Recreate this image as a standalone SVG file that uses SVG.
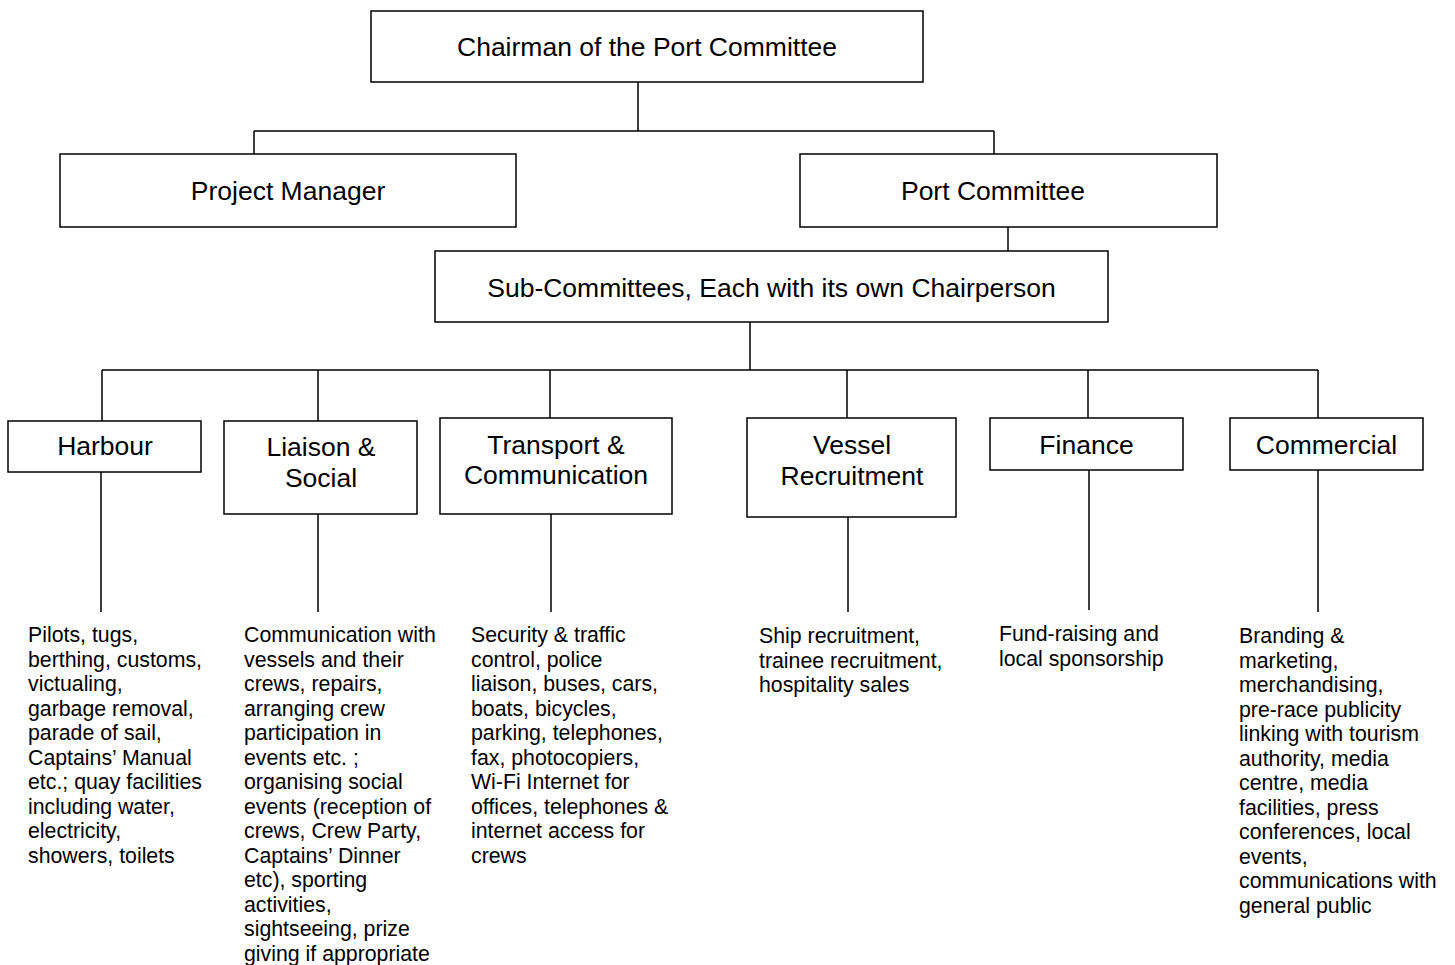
<svg xmlns="http://www.w3.org/2000/svg" width="1455" height="965" viewBox="0 0 1455 965">
<style>
.box{fill:#fff;stroke:#000;stroke-width:1.5}
.con{stroke:#000;stroke-width:1.5;fill:none}
.h{font-family:"Liberation Sans",Arial,sans-serif;font-size:26.5px;fill:#000;text-anchor:middle}
.b{font-family:"Liberation Sans",Arial,sans-serif;font-size:21.3px;fill:#000}
</style>
<rect width="1455" height="965" fill="#fff"/>
<g id="connectors">
<path class="con" d="M638 82V131M254 131H994M254 131V154M994 131V154"/>
<path class="con" d="M1008 227V251"/>
<path class="con" d="M750 322V370M102 370H1318M102 370V421M318 370V421M550 370V418M847 370V418M1088 370V418M1318 370V418"/>
<path class="con" d="M101 472V612M318 514V612M551 514V612M848 517V612M1089 470V610M1318 470V612"/>
</g>
<g id="chairman"><rect class="box" x="371" y="11" width="552" height="71"/><text class="h" x="647" y="56">Chairman of the Port Committee</text></g>
<g id="project-manager"><rect class="box" x="60" y="154" width="456" height="73"/><text class="h" x="288" y="200">Project Manager</text></g>
<g id="port-committee"><rect class="box" x="800" y="154" width="417" height="73"/><text class="h" x="993" y="200">Port Committee</text></g>
<g id="sub-committees"><rect class="box" x="435" y="251" width="673" height="71"/><text class="h" x="771.5" y="297">Sub-Committees, Each with its own Chairperson</text></g>
<g id="harbour"><rect class="box" x="8" y="421" width="193" height="51"/><text class="h" x="105" y="455">Harbour</text></g>
<g id="liaison"><rect class="box" x="224" y="421" width="193" height="93"/><text class="h" x="321" y="456">Liaison &amp;</text><text class="h" x="321" y="487">Social</text></g>
<g id="transport"><rect class="box" x="440" y="418" width="232" height="96"/><text class="h" x="556" y="454">Transport &amp;</text><text class="h" x="556" y="484">Communication</text></g>
<g id="vessel"><rect class="box" x="747" y="418" width="209" height="99"/><text class="h" x="852" y="454">Vessel</text><text class="h" x="852" y="485">Recruitment</text></g>
<g id="finance"><rect class="box" x="990" y="418" width="193" height="52"/><text class="h" x="1086.5" y="454">Finance</text></g>
<g id="commercial"><rect class="box" x="1230" y="418" width="193" height="52"/><text class="h" x="1326.5" y="454">Commercial</text></g>
<g id="harbour-desc"><text class="b" x="28" y="642">
<tspan x="28" y="642">Pilots, tugs,</tspan>
<tspan x="28" dy="24.5">berthing, customs,</tspan>
<tspan x="28" dy="24.5">victualing,</tspan>
<tspan x="28" dy="24.5">garbage removal,</tspan>
<tspan x="28" dy="24.5">parade of sail,</tspan>
<tspan x="28" dy="24.5">Captains’ Manual</tspan>
<tspan x="28" dy="24.5">etc.; quay facilities</tspan>
<tspan x="28" dy="24.5">including water,</tspan>
<tspan x="28" dy="24.5">electricity,</tspan>
<tspan x="28" dy="24.5">showers, toilets</tspan></text></g>
<g id="liaison-desc"><text class="b" x="244" y="642">
<tspan x="244" y="642">Communication with</tspan>
<tspan x="244" dy="24.5">vessels and their</tspan>
<tspan x="244" dy="24.5">crews, repairs,</tspan>
<tspan x="244" dy="24.5">arranging crew</tspan>
<tspan x="244" dy="24.5">participation in</tspan>
<tspan x="244" dy="24.5">events etc. ;</tspan>
<tspan x="244" dy="24.5">organising social</tspan>
<tspan x="244" dy="24.5">events (reception of</tspan>
<tspan x="244" dy="24.5">crews, Crew Party,</tspan>
<tspan x="244" dy="24.5">Captains’ Dinner</tspan>
<tspan x="244" dy="24.5">etc), sporting</tspan>
<tspan x="244" dy="24.5">activities,</tspan>
<tspan x="244" dy="24.5">sightseeing, prize</tspan>
<tspan x="244" dy="24.5">giving if appropriate</tspan></text></g>
<g id="transport-desc"><text class="b" x="471" y="642">
<tspan x="471" y="642">Security &amp; traffic</tspan>
<tspan x="471" dy="24.5">control, police</tspan>
<tspan x="471" dy="24.5">liaison, buses, cars,</tspan>
<tspan x="471" dy="24.5">boats, bicycles,</tspan>
<tspan x="471" dy="24.5">parking, telephones,</tspan>
<tspan x="471" dy="24.5">fax, photocopiers,</tspan>
<tspan x="471" dy="24.5">Wi-Fi Internet for</tspan>
<tspan x="471" dy="24.5">offices, telephones &amp;</tspan>
<tspan x="471" dy="24.5">internet access for</tspan>
<tspan x="471" dy="24.5">crews</tspan></text></g>
<g id="vessel-desc"><text class="b" x="759" y="643">
<tspan x="759" y="643">Ship recruitment,</tspan>
<tspan x="759" dy="24.5">trainee recruitment,</tspan>
<tspan x="759" dy="24.5">hospitality sales</tspan></text></g>
<g id="finance-desc"><text class="b" x="999" y="641">
<tspan x="999" y="641">Fund-raising and</tspan>
<tspan x="999" dy="24.5">local sponsorship</tspan></text></g>
<g id="commercial-desc"><text class="b" x="1239" y="643">
<tspan x="1239" y="643">Branding &amp;</tspan>
<tspan x="1239" dy="24.5">marketing,</tspan>
<tspan x="1239" dy="24.5">merchandising,</tspan>
<tspan x="1239" dy="24.5">pre-race publicity</tspan>
<tspan x="1239" dy="24.5">linking with tourism</tspan>
<tspan x="1239" dy="24.5">authority, media</tspan>
<tspan x="1239" dy="24.5">centre, media</tspan>
<tspan x="1239" dy="24.5">facilities, press</tspan>
<tspan x="1239" dy="24.5">conferences, local</tspan>
<tspan x="1239" dy="24.5">events,</tspan>
<tspan x="1239" dy="24.5">communications with</tspan>
<tspan x="1239" dy="24.5">general public</tspan></text></g>
</svg>
